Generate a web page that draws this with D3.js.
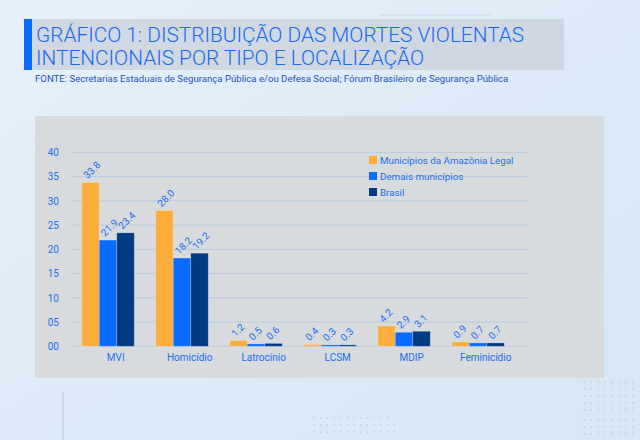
<!DOCTYPE html>
<html><head><meta charset="utf-8">
<script src="https://cdn.jsdelivr.net/npm/d3@7"></script>
<style>
html,body{margin:0;padding:0;width:640px;height:440px;overflow:hidden;}
svg{display:block;}
</style></head>
<body>
<svg id="chart" width="640" height="440"></svg>
<script>
const categories = ["MVI","Homicídio","Latrocínio","LCSM","MDIP","Feminicídio"];
const seriesNames = ["Municípios da Amazônia Legal","Demais municípios","Brasil"];
const amazonia = [33.8, 28.0, 1.2, 0.4, 4.2, 0.9];
const demais   = [21.9, 18.2, 0.5, 0.3, 2.9, 0.7];
const brasil   = [23.4, 19.2, 0.6, 0.3, 3.1, 0.7];
const yTicks = [0,5,10,15,20,25,30,35,40];
const colors = ["#FBAE3C","#0A6CFF","#023B82"];

const titleLines = ["GRÁFICO 1: DISTRIBUIÇÃO DAS MORTES VIOLENTAS","INTENCIONAIS POR TIPO E LOCALIZAÇÃO"];
const sourceText = "FONTE: Secretarias Estaduais de Segurança Pública e/ou Defesa Social; Fórum Brasileiro de Segurança Pública";

const svg = d3.select("#chart");
const defs = svg.append("defs");
const bg = defs.append("linearGradient").attr("id","bg").attr("x1","0").attr("y1","0").attr("x2","1").attr("y2","1");
bg.append("stop").attr("offset","0").attr("stop-color","#e6f2fb");
bg.append("stop").attr("offset","0.5").attr("stop-color","#dcebf7");
bg.append("stop").attr("offset","1").attr("stop-color","#d6e7f5");
svg.append("rect").attr("width",640).attr("height",440).attr("fill","url(#bg)");

// decorative dot grids
function dots(x0,y0,cols,rows,dx,dy){
  const g = svg.append("g").attr("fill","#b9c9d8");
  for(let i=0;i<cols;i++)for(let j=0;j<rows;j++)
    g.append("circle").attr("cx",x0+i*dx).attr("cy",y0+j*dy).attr("r",0.8);
}
dots(584,382,8,5,7,7);
dots(584,420,8,3,7,7);
dots(314,418,13,3,6.7,7);
svg.append("line").attr("x1",380).attr("x2",490).attr("y1",15).attr("y2",15).attr("stroke","#c9d9e8").attr("stroke-width",1);
svg.append("line").attr("x1",63).attr("x2",63).attr("y1",392).attr("y2",440).attr("stroke","#c4d4e3").attr("stroke-width",1.5);

// title box
svg.append("rect").attr("x",24).attr("y",19).attr("width",540).attr("height",51).attr("fill","#ccd4de").attr("opacity",0.85);
svg.append("rect").attr("x",24).attr("y",19).attr("width",8).attr("height",51).attr("fill","#0a6cff");
svg.append("g").selectAll("text").data(titleLines).join("text")
  .attr("x",36).attr("y",(d,i)=>42+i*23)
  .attr("font-family","Roboto").attr("font-weight",300).attr("font-size",20.8)
  .attr("fill","#1769f0").text(d=>d);
svg.append("text").attr("x",35).attr("y",82)
  .attr("font-family","Roboto").attr("font-size",9.6).attr("fill","#2253bd")
  .text(sourceText);

// chart panel
svg.append("rect").attr("x",35).attr("y",116).attr("width",569).attr("height",262).attr("fill","#d8dbde");

const y = d3.scaleLinear().domain([0,40]).range([346.3,152.3]);
const x0 = d3.scaleBand().domain(categories).range([71,515]).paddingInner(0.29).paddingOuter(0.145);
const x1 = d3.scaleBand().domain(seriesNames).range([0,x0.bandwidth()]);

// grid
svg.append("g").selectAll("line").data(yTicks).join("line")
  .attr("x1",71.7).attr("x2",527.7).attr("y1",d=>y(d)).attr("y2",d=>y(d))
  .attr("stroke","#b9cade").attr("stroke-width",1);

// y axis labels
const yAxis = svg.append("g").attr("transform","translate(59,0)")
  .call(d3.axisLeft(y).tickValues(yTicks).tickFormat(d3.format("02d")).tickSize(0).tickPadding(0));
yAxis.select(".domain").remove();
yAxis.selectAll("text").attr("font-family","Roboto").attr("font-size",10).attr("fill","#1a6ef0");

// x axis labels
const xAxis = svg.append("g").attr("transform","translate(0,353)")
  .call(d3.axisBottom(x0).tickSize(0).tickPadding(0));
xAxis.select(".domain").remove();
xAxis.selectAll("text").attr("dx",7.7).attr("dy","0.75em").attr("font-family","Roboto").attr("font-size",10).attr("fill","#1a6ef0");

const data = categories.map((c,i)=>({cat:c, vals:[amazonia[i],demais[i],brasil[i]]}));
const groups = svg.append("g").selectAll("g").data(data).join("g")
  .attr("transform",d=>`translate(${x0(d.cat)},0)`);
groups.selectAll("rect").data(d=>d.vals.map((v,k)=>({v,k}))).join("rect")
  .attr("x",d=>x1(seriesNames[d.k])).attr("width",x1.bandwidth())
  .attr("y",d=>y(d.v)).attr("height",d=>y(0)-y(d.v))
  .attr("fill",d=>colors[d.k])
  .attr("stroke","rgba(255,255,255,0.3)").attr("stroke-width",0.8);
groups.selectAll("text").data(d=>d.vals.map((v,k)=>({v,k}))).join("text")
  .attr("transform",d=>`translate(${x1(seriesNames[d.k])+x1.bandwidth()/2-3},${y(d.v)-3}) rotate(-45)`)
  .attr("font-family","Roboto").attr("font-size",10).attr("fill","#1a6ef0")
  .text(d=>d3.format(".1f")(d.v));

// legend
const leg = svg.append("g").selectAll("g").data(seriesNames).join("g")
  .attr("transform",(d,i)=>`translate(369,${156+i*16})`);
leg.append("rect").attr("width",8).attr("height",8).attr("fill",(d,i)=>colors[i]);
leg.append("text").attr("x",11).attr("y",8).attr("font-family","Roboto").attr("font-size",9.8).attr("fill","#1a6ef0").text(d=>d);
</script>
</body></html>
